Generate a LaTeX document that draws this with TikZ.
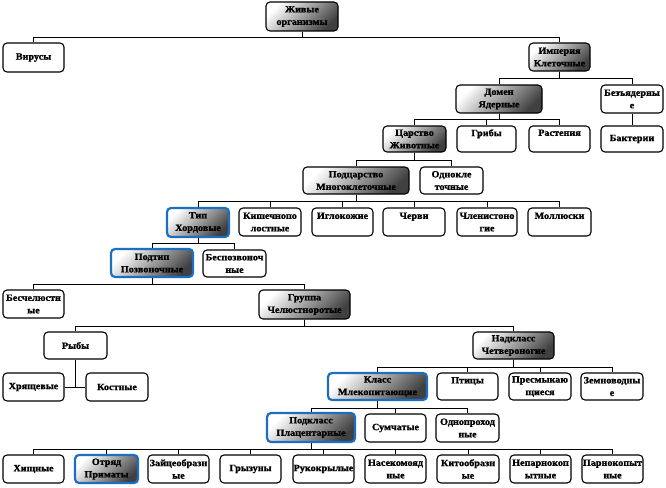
\documentclass[tikz,border=0pt]{standalone}
\usepackage{fontspec}
\setmainfont{Liberation Serif}[FakeStretch=1.06, BoldFeatures={FakeBold=1.2}]
\usetikzlibrary{calc}
\definecolor{bluebd}{HTML}{1C6EC2}
\tikzset{
  box/.style={draw=black, line width=1.1pt, rounded corners=4pt, fill=white, inner sep=0.5pt, align=center,
    font=\bfseries\fontsize{9.6}{12.5}\selectfont},
  grad/.style={box, top color=white, bottom color=black!75, shading angle=45},
  bluegrad/.style={grad, draw=bluebd, line width=2.2pt},
  conn/.style={draw=black, line width=0.9pt},
}
\newcommand\bx[7]{\node[#1, minimum width={(#5-#3)*1pt}, minimum height={(#6-#4)*1pt}] (#2) at ({(#3+#5)/2*1pt},{-(#4+#6)/2*1pt}) {#7};}
\begin{document}
\begin{tikzpicture}
\useasboundingbox (0,0) rectangle (666pt,-487pt);
% row 0-1
\bx{grad}{zh}{266}{2}{338}{31}{Живые\\организмы}
\bx{box}{vir}{3}{43}{64}{72}{Вирусы}
\bx{grad}{imp}{529}{43}{590}{71}{Империя\\Клеточные}
% row 2
\bx{grad}{dom}{456}{85}{542}{113}{Домен\\Ядерные}
\bx{box}{bez}{601}{85}{663}{113}{Безъядерны\\е}
% row 3
\bx{grad}{car}{383}{126}{446}{152}{Царство\\Животные}
\bx{box}{grib}{457}{126}{516}{152}{Грибы\\\phantom{Х}}
\bx{box}{rast}{529}{126}{590}{152}{Растения\\\phantom{Х}}
\bx{box}{bakt}{601}{126}{663}{152}{Бактерии}
% row 4
\bx{grad}{podc}{303}{167}{409}{194}{Подцарство\\Многоклеточные}
\bx{box}{odn}{420}{167}{483}{194}{Однокле\\точные}
% row 5
\bx{bluegrad}{hord}{167}{208}{229}{237}{Тип\\Хордовые}
\bx{box}{kish}{239}{208}{301}{236}{Кишечнопо\\лостные}
\bx{box}{igl}{312}{208}{373}{236}{Иглокожие\\\phantom{Х}}
\bx{box}{cherv}{383}{208}{445}{236}{Черви\\\phantom{Х}}
\bx{box}{chlen}{457}{208}{517}{236}{Членистоно\\гие}
\bx{box}{moll}{528}{208}{591}{236}{Моллюски\\\phantom{Х}}
% row 6
\bx{bluegrad}{pozv}{111}{249}{193}{277}{Подтип\\Позвоночные}
\bx{box}{bespozv}{203}{250}{266}{277}{Беспозвоноч\\ные}
% row 7
\bx{box}{beschel}{3}{290}{64}{318}{Бесчелюстн\\ые}
\bx{grad}{chel}{259}{290}{350}{319}{Группа\\Челюстноротые}
% row 8
\bx{box}{ryby}{44}{332}{107}{359}{Рыбы}
\bx{grad}{nadkl}{473}{332}{554}{359}{Надкласс\\Четвероногие}
% row 9
\bx{box}{hr}{3}{373}{64}{401}{Хрящевые}
\bx{box}{kost}{86}{373}{148}{401}{Костные}
\bx{bluegrad}{klass}{328}{373}{427}{400}{Класс\\Млекопитающие}
\bx{box}{ptic}{437}{373}{498}{400}{Птицы\\\phantom{Х}}
\bx{box}{presm}{509}{373}{571}{400}{Пресмыкаю\\щиеся}
\bx{box}{zemn}{581}{373}{643}{400}{Земноводны\\е}
% row 10
\bx{bluegrad}{podkl}{267}{413}{355}{442}{Подкласс\\Плацентарные}
\bx{box}{sum}{365}{414}{426}{442}{Сумчатые}
\bx{box}{odnopr}{436}{414}{499}{442}{Однопроход\\ные}
% row 11
\bx{box}{hish}{3}{455}{64}{483}{Хищные}
\bx{bluegrad}{otr}{75}{455}{138}{483}{Отряд\\Приматы}
\bx{box}{zaic}{148}{455}{209}{483}{Зайцеобразн\\ые}
\bx{box}{gryz}{220}{455}{281}{483}{Грызуны}
\bx{box}{ruk}{293}{455}{354}{483}{Рукокрылые}
\bx{box}{nasek}{365}{455}{426}{483}{Насекомояд\\ные}
\bx{box}{kit}{437}{455}{499}{483}{Китообразн\\ые}
\bx{box}{nepar}{510}{455}{571}{483}{Непарнокоп\\ытные}
\bx{box}{parn}{582}{455}{643}{483}{Парнокопыт\\ные}
% connectors
\foreach \c in {vir,imp} \draw[conn] (zh.south) -- ++(0,-6pt) -| (\c.north);
\foreach \c in {dom,bez} \draw[conn] (imp.south) -- ++(0,-7pt) -| (\c.north);
\draw[conn] (bez.south) -- (bakt.north);
\foreach \c in {car,grib,rast} \draw[conn] (dom.south) -- ++(0,-6pt) -| (\c.north);
\foreach \c in {podc,odn} \draw[conn] (car.south) -- ++(0,-8pt) -| (\c.north);
\foreach \c in {hord,kish,igl,cherv,chlen,moll} \draw[conn] (podc.south) -- ++(0,-7pt) -| (\c.north);
\foreach \c in {pozv,bespozv} \draw[conn] (hord.south) -- ++(0,-5pt) -| (\c.north);
\foreach \c in {beschel,chel} \draw[conn] (pozv.south) -- ++(0,-6pt) -| (\c.north);
\foreach \c in {ryby,nadkl} \draw[conn] (chel.south) -- ++(0,-7pt) -| (\c.north);
\draw[conn] (ryby.south) -- (ryby.south |- hr.east);
\draw[conn] (hr.east) -- (kost.west);
\foreach \c in {klass,ptic,presm,zemn} \draw[conn] (nadkl.south) -- ++(0,-8pt) -| (\c.north);
\foreach \c in {podkl,sum,odnopr} \draw[conn] (klass.south) -- ++(0,-7pt) -| (\c.north);
\foreach \c in {hish,otr,zaic,gryz,ruk,nasek,kit,nepar,parn} \draw[conn] (podkl.south) -- ++(0,-6pt) -| (\c.north);
\end{tikzpicture}
\end{document}
